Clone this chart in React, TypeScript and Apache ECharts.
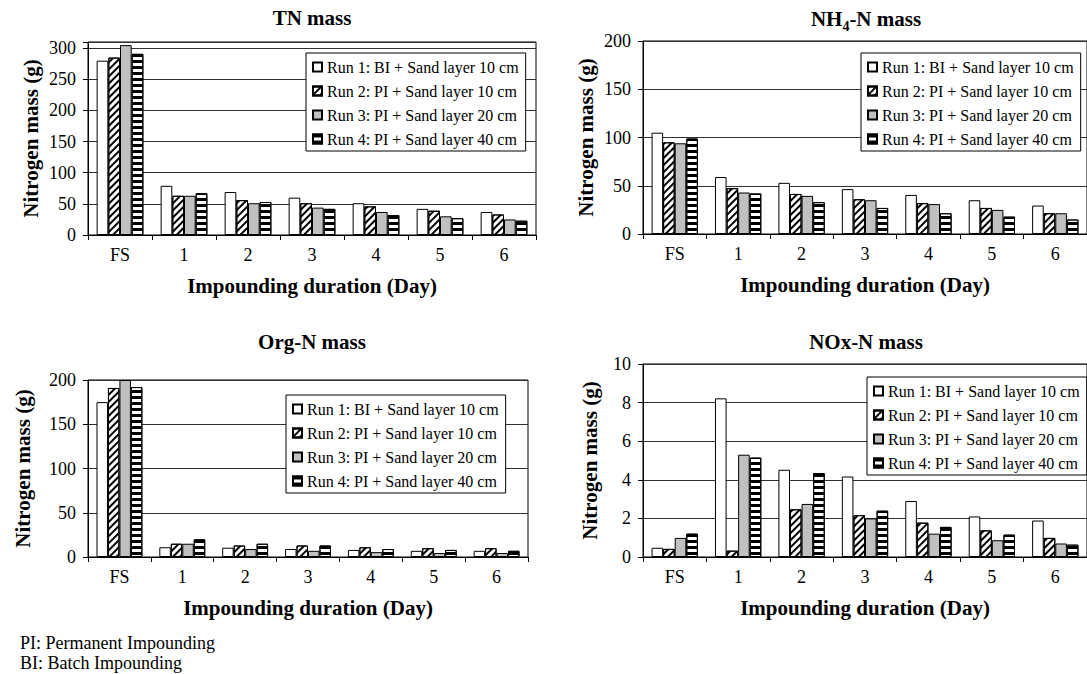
import React, { useEffect, useRef } from "react";
import * as echarts from "echarts";

const categories = ["FS", "1", "2", "3", "4", "5", "6"];
const runNames = [
  "Run 1: BI + Sand layer 10 cm",
  "Run 2: PI + Sand layer 10 cm",
  "Run 3: PI + Sand layer 20 cm",
  "Run 4: PI + Sand layer 40 cm",
];

// TN mass (g)
const tnRun1 = [280, 79, 69, 60, 51, 42, 37];
const tnRun2 = [285, 63, 56, 51, 46, 39, 33];
const tnRun3 = [305, 63, 51, 44, 37, 30, 25];
const tnRun4 = [291, 67, 53, 42, 32, 27, 23];

// NH4-N mass (g)
const nhRun1 = [105, 59, 53, 46.5, 40.5, 35, 29.5];
const nhRun2 = [95, 47.5, 41.5, 36, 32, 27, 21.5];
const nhRun3 = [94, 43, 39.5, 35, 31, 25, 21.5];
const nhRun4 = [99, 42, 33, 27, 21.5, 18, 15];

// Org-N mass (g)
const orgRun1 = [175, 11, 10.5, 9, 8, 7, 7];
const orgRun2 = [191, 15, 13, 13, 11, 10, 10];
const orgRun3 = [200, 15, 9, 7, 5.5, 4.5, 4.5];
const orgRun4 = [192, 20, 15, 13, 9, 8, 7];

// NOx-N mass (g)
const noxRun1 = [0.48, 8.22, 4.52, 4.17, 2.9, 2.1, 1.89];
const noxRun2 = [0.42, 0.33, 2.47, 2.17, 1.78, 1.38, 0.99];
const noxRun3 = [0.99, 5.3, 2.75, 2.0, 1.21, 0.87, 0.7];
const noxRun4 = [1.21, 5.15, 4.35, 2.4, 1.56, 1.16, 0.64];

const yMax = [310, 200, 200, 10];
const yInterval = [50, 50, 50, 2];

const FONT = "Liberation Serif";

export default function App() {
  const ref = useRef<HTMLDivElement>(null);

  useEffect(() => {
    if (!ref.current) return;
    const chart = echarts.init(ref.current, null, { renderer: "svg" });

    const panels = [
      [tnRun1, tnRun2, tnRun3, tnRun4],
      [nhRun1, nhRun2, nhRun3, nhRun4],
      [orgRun1, orgRun2, orgRun3, orgRun4],
      [noxRun1, noxRun2, noxRun3, noxRun4],
    ];

    const grids = [
      { left: 88, top: 42, width: 448, height: 193 },
      { left: 643, top: 41, width: 448, height: 193 },
      { left: 88, top: 380, width: 440, height: 177 },
      { left: 643, top: 364, width: 453, height: 193 },
    ];

    const itemStyles: any[] = [
      { color: "#ffffff", borderColor: "#000", borderWidth: 1 },
      {
        color: "#ffffff",
        borderColor: "#000",
        borderWidth: 1,
        decal: {
          symbol: "rect",
          symbolSize: 1,
          dashArrayX: [10, 0],
          dashArrayY: [2, 3],
          rotation: -Math.PI / 4,
          color: "#000",
        },
      },
      { color: "#c0c0c0", borderColor: "#000", borderWidth: 1 },
      {
        color: "#ffffff",
        borderColor: "#000",
        borderWidth: 1,
        decal: {
          symbol: "rect",
          symbolSize: 1,
          dashArrayX: [10, 0],
          dashArrayY: [3, 3],
          rotation: 0,
          color: "#000",
        },
      },
    ];

    const series: any[] = [];
    panels.forEach((runs, p) => {
      runs.forEach((vals, r) => {
        series.push({
          type: "bar",
          name: runNames[r],
          xAxisIndex: p,
          yAxisIndex: p,
          data: vals,
          barGap: "0%",
          barCategoryGap: "27%",
          itemStyle: itemStyles[r],
          emphasis: { disabled: true },
        });
      });
    });

    const xAxes = grids.map((_, i) => ({
      type: "category",
      gridIndex: i,
      data: categories,
      name: "Impounding duration (Day)",
      nameLocation: "middle",
      nameGap: 40,
      nameTextStyle: { fontFamily: FONT, fontSize: 21, fontWeight: "bold", color: "#000" },
      axisLine: { show: true, lineStyle: { color: "#000", width: 1 } },
      axisTick: { show: true, length: 5, lineStyle: { color: "#000" } },
      axisLabel: { fontFamily: FONT, fontSize: 18, color: "#000", margin: 11 },
      splitLine: { show: false },
    }));

    const yAxes = grids.map((_, i) => ({
      type: "value",
      gridIndex: i,
      min: 0,
      max: yMax[i],
      interval: yInterval[i],
      name: "Nitrogen mass (g)",
      nameLocation: "middle",
      nameRotate: 90,
      nameGap: i === 3 ? 43 : i === 2 ? 55 : 47,
      nameTextStyle: { fontFamily: FONT, fontSize: 21, fontWeight: "bold", color: "#000" },
      axisLine: { show: true, lineStyle: { color: "#000", width: 1 } },
      axisTick: { show: true, length: 5, lineStyle: { color: "#000" } },
      axisLabel: {
        fontFamily: FONT,
        fontSize: 18,
        color: "#000",
        margin: 12,
        formatter: (v: number) => (Math.abs(v / yInterval[i] - Math.round(v / yInterval[i])) < 1e-9 ? String(v) : ""),
      },
      splitLine: { show: true, lineStyle: { color: "#303030", width: 1 } },
    }));

    const legendPos = [
      { left: 306, top: 53 },
      { left: 861, top: 53 },
      { left: 286, top: 395 },
      { left: 867, top: 377 },
    ];

    const legends = legendPos.map((pos) => ({
      ...pos,
      orient: "vertical",
      data: runNames,
      selectedMode: false,
      icon: "rect",
      itemWidth: 9,
      itemHeight: 9,
      itemGap: 6,
      backgroundColor: "#fff",
      borderColor: "#000",
      borderWidth: 1,
      borderRadius: 0,
      padding: [5, 7, 3, 6],
      textStyle: { fontFamily: FONT, fontSize: 16, color: "#000", lineHeight: 18 },
    }));

    const titleStyle = { fontFamily: FONT, fontSize: 21, fontWeight: "bold", color: "#000" };
    const titles = [
      { text: "TN mass", left: 312, top: 7, textAlign: "center", padding: 0, textStyle: titleStyle },
      {
        text: "{a|NH}{s|4}{a|-N mass}",
        left: 866,
        top: 7,
        textAlign: "center",
        padding: 0,
        textStyle: {
          ...titleStyle,
          rich: {
            a: { ...titleStyle, lineHeight: 22, verticalAlign: "bottom" },
            s: { fontFamily: FONT, fontSize: 14, fontWeight: "bold", color: "#000", lineHeight: 14, verticalAlign: "bottom", padding: [0, 0, -4, 0] },
          },
        },
      },
      { text: "Org-N mass", left: 312, top: 331, textAlign: "center", padding: 0, textStyle: titleStyle },
      { text: "NOx-N mass", left: 866, top: 331, textAlign: "center", padding: 0, textStyle: titleStyle },
    ];

    chart.setOption({
      animation: false,
      backgroundColor: "#fff",
      textStyle: { fontFamily: FONT },
      title: titles,
      legend: legends,
      grid: grids.map((g) => ({ ...g, show: true, borderColor: "#000", borderWidth: 1, backgroundColor: "transparent", containLabel: false })),
      xAxis: xAxes,
      yAxis: yAxes,
      series,
      graphic: [
        {
          type: "text",
          left: 20,
          top: 634,
          style: { text: "PI: Permanent Impounding", fontFamily: FONT, fontSize: 18, fill: "#000" },
        },
        {
          type: "text",
          left: 20,
          top: 654,
          style: { text: "BI: Batch Impounding", fontFamily: FONT, fontSize: 18, fill: "#000" },
        },
      ],
    });

    return () => chart.dispose();
  }, []);

  return (
    <div
      ref={ref}
      style={{ position: "fixed", left: 0, top: 0, width: 1087, height: 674, background: "#fff" }}
    />
  );
}
